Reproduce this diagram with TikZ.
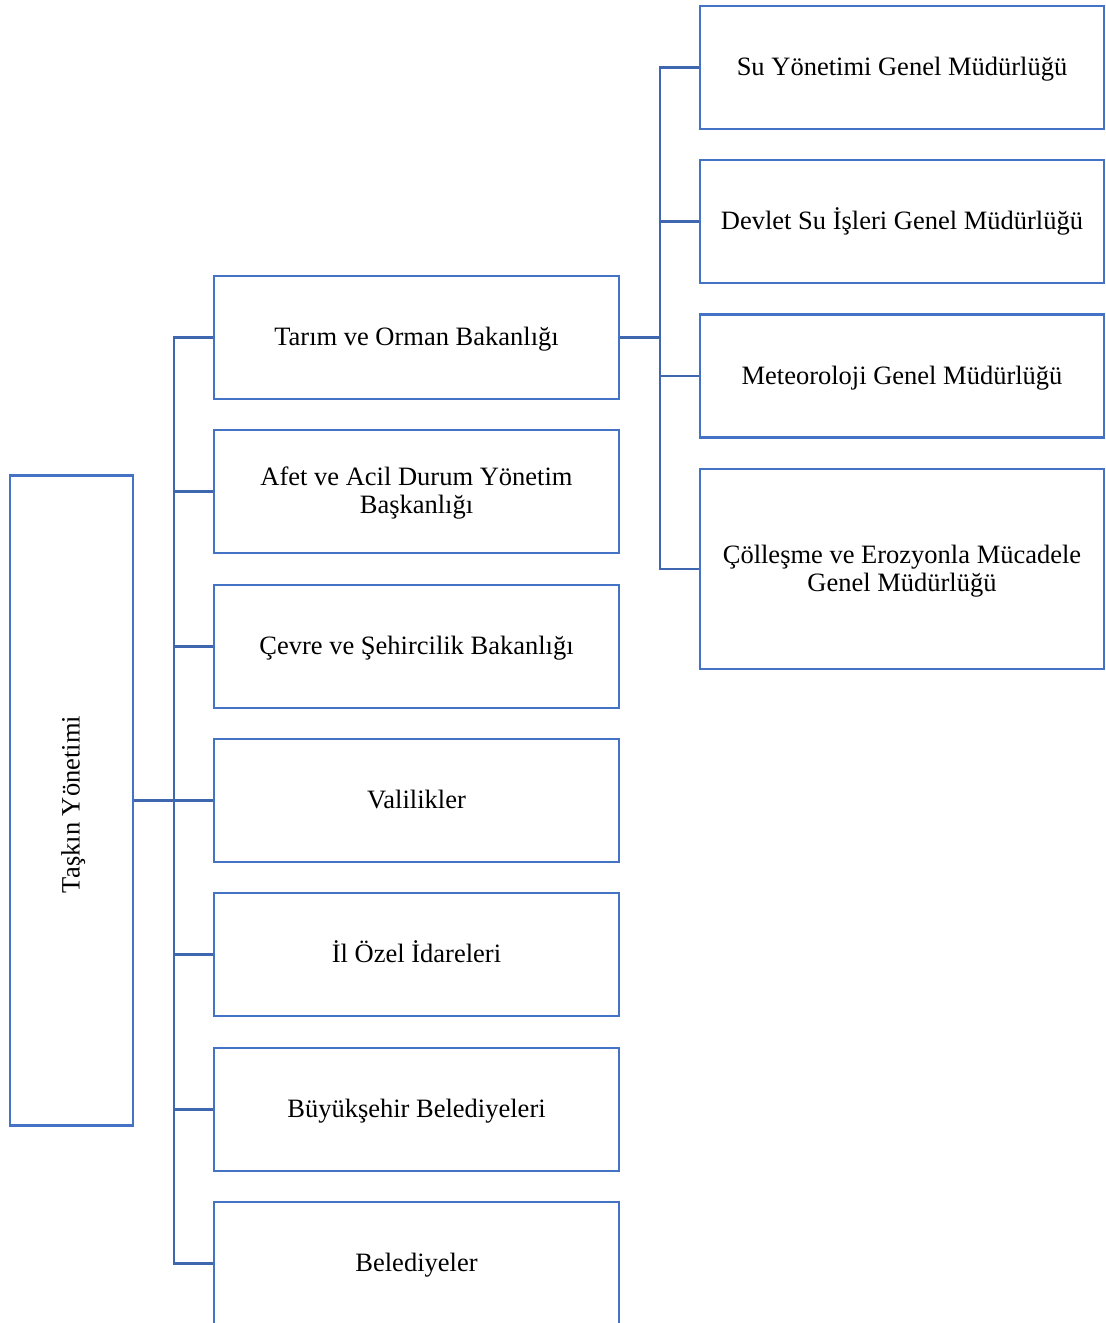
\documentclass[tikz,border=0pt]{standalone}
\usepackage{fontspec}
\setmainfont{Liberation Serif}
\definecolor{boxblue}{HTML}{4472C4}
\definecolor{linkblue}{HTML}{3F67B0}
\begin{document}
\begin{tikzpicture}[x=1pt,y=-1pt,
  txt/.style={font=\fontsize{26.5}{28}\selectfont, text=black, align=center,
    text height=20pt, text depth=4pt},
  twoline/.style={text height=48pt, text depth=4pt},
  box/.style={txt, draw=boxblue, line width=2.5pt, inner sep=0pt},
  midbox/.style={box, minimum width=405pt, minimum height=123pt},
  rbox/.style={box, minimum width=404pt, minimum height=123pt},
  conn/.style={draw=linkblue, line width=2.5pt}]
\useasboundingbox (0,0) rectangle (1106,1323);
\clip (0,0) rectangle (1106,1323);
% root
\node[box, minimum width=123pt, minimum height=650pt] (root) at (71.5,800.5) {};
\node[txt, rotate=90, inner sep=0pt] (roottxt) at (71.5,804.5) {Taşkın Yönetimi};
% middle column
\node[midbox] (tarim) at (416.5,337.5) {Tarım ve Orman Bakanlığı};
\node[midbox, twoline] (afet) at (416.5,491.5) {Afet ve Acil Durum Yönetim\\Başkanlığı};
\node[midbox] (cevre) at (416.5,646.5) {Çevre ve Şehircilik Bakanlığı};
\node[midbox] (vali) at (416.5,800.5) {Valilikler};
\node[midbox] (ilozel) at (416.5,954.5) {İl Özel İdareleri};
\node[midbox] (buyuk) at (416.5,1109.5) {Büyükşehir Belediyeleri};
\node[midbox] (bel) at (416.5,1263.5) {Belediyeler};
% right column
\node[rbox] (su) at (902,67.5) {Su Yönetimi Genel Müdürlüğü};
\node[rbox] (dsi) at (902,221.5) {Devlet Su İşleri Genel Müdürlüğü};
\node[rbox] (met) at (902,376) {Meteoroloji Genel Müdürlüğü};
\node[rbox, twoline, minimum height=200pt] (col) at (902,569) {Çölleşme ve Erozyonla Mücadele\\Genel Müdürlüğü};
% buses
\coordinate (lbus) at (174,800.5);
\coordinate (rbus) at (660,376);
\draw[conn] (tarim.west) -| (lbus) |- (bel.west);
\foreach \n in {afet,cevre,vali,ilozel,buyuk}
  \draw[conn] (\n.west) -- (\n.west -| lbus);
\draw[conn] (root.east) -- (vali.west);
\draw[conn] (su.west) -| (rbus) |- (col.west);
\foreach \n in {dsi,met}
  \draw[conn] (\n.west) -- (\n.west -| rbus);
\draw[conn] (tarim.east) -- (tarim.east -| rbus);
\end{tikzpicture}
\end{document}
